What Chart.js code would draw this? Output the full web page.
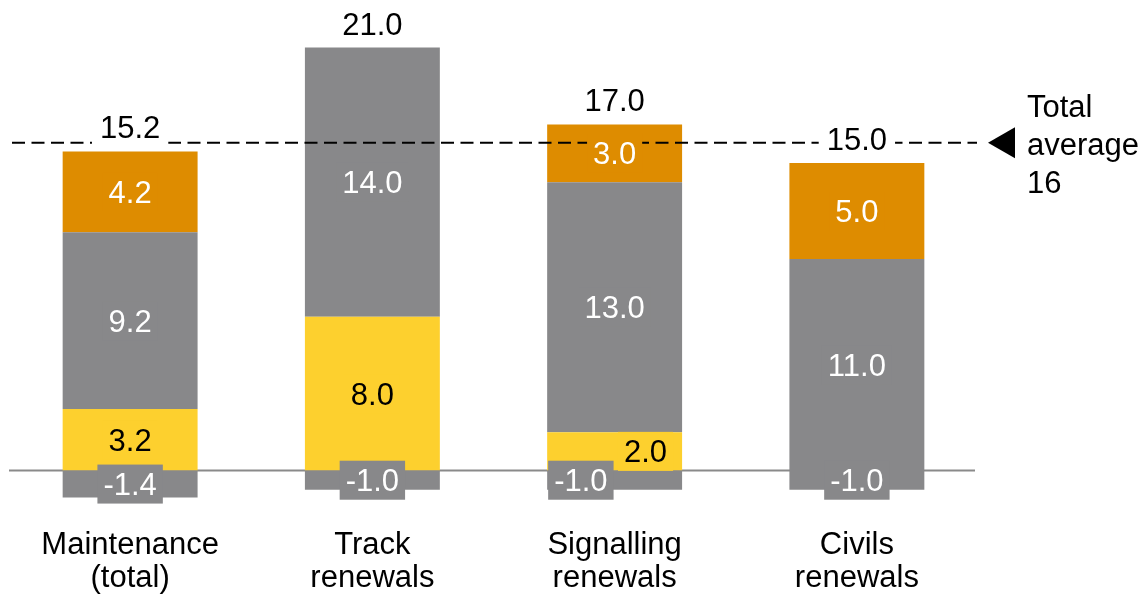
<!DOCTYPE html>
<html>
<head>
<meta charset="utf-8">
<script src="https://cdn.jsdelivr.net/npm/chart.js@4/dist/chart.umd.min.js"></script>
<style>
  html, body { margin: 0; padding: 0; background: #ffffff; }
  canvas { display: block; }
</style>
</head>
<body>
<canvas id="chart" width="1141" height="597"></canvas>
<script>
// Cost build-up per activity (stacked), with net totals above each bar
const categories = [
  ['Maintenance', '(total)'],
  ['Track', 'renewals'],
  ['Signalling', 'renewals'],
  ['Civils', 'renewals']
];
const reductions = [-1.4, -1.0, -1.0, -1.0];
const lowerBlock = [3.2, 8.0, 2.0, null];
const coreBlock  = [9.2, 14.0, 13.0, 11.0];
const upperBlock = [4.2, null, 3.0, 5.0];
const averageText = ['Total', 'average', '16'];

const GREY = '#88888a';
const YELLOW = '#fdd02e';
const ORANGE = '#de8c00';
const FONT = '31px "Liberation Sans", Arial, sans-serif';

// net total of every bar (sum of all its parts, negatives included)
const totals = categories.map((_, i) =>
  [reductions, lowerBlock, coreBlock, upperBlock].reduce((s, arr) => s + (arr[i] || 0), 0));
const averageLevel = totals.reduce((a, b) => a + b, 0) / totals.length;

// where a segment label has to move sideways to make room (category -> dataset)
const labelPlacement = {
  2: { 0: { align: 'start', inset: 1 }, 1: { align: 'end', inset: 9 } }
};

const annotate = {
  id: 'annotate',
  beforeDatasetsDraw(chart) {
    const { ctx, chartArea, scales } = chart;
    const y0 = scales.y.getPixelForValue(0);
    ctx.save();
    ctx.strokeStyle = '#8a8a8a';
    ctx.lineWidth = 2;
    ctx.beginPath();
    ctx.moveTo(chartArea.left, y0);
    ctx.lineTo(chartArea.right - 3, y0);
    ctx.stroke();
    ctx.restore();
  },
  afterDatasetsDraw(chart) {
    const { ctx, chartArea, scales } = chart;
    const yScale = scales.y, xScale = scales.x;
    ctx.save();

    // total average reference line
    const ya = yScale.getPixelForValue(averageLevel);
    ctx.strokeStyle = '#000000';
    ctx.lineWidth = 2;
    ctx.setLineDash([13, 6.5]);
    ctx.beginPath();
    ctx.moveTo(chartArea.left + 3, ya);
    ctx.lineTo(chartArea.right - 1, ya);
    ctx.stroke();
    ctx.setLineDash([]);

    // pointer and caption for the average
    ctx.fillStyle = '#000000';
    ctx.beginPath();
    ctx.moveTo(chartArea.right + 10, ya);
    ctx.lineTo(chartArea.right + 37, ya - 15.5);
    ctx.lineTo(chartArea.right + 37, ya + 15.5);
    ctx.closePath();
    ctx.fill();
    ctx.font = FONT;
    ctx.textAlign = 'left';
    ctx.textBaseline = 'alphabetic';
    averageText.forEach((t, k) => ctx.fillText(t, chartArea.right + 49, ya - 26 + k * 38));

    // segment value labels with a background tile in the segment colour
    ctx.textAlign = 'center';
    chart.data.datasets.forEach((ds, di) => {
      const meta = chart.getDatasetMeta(di);
      meta.data.forEach((el, i) => {
        const v = ds.data[i];
        if (v === null || v === undefined) return;
        const p = el.getProps(['x', 'y', 'base', 'width'], true);
        const mid = (p.y + p.base) / 2;
        const text = v.toFixed(1);
        const tw = ctx.measureText(text).width;
        const boxW = tw + 12;
        let cx = p.x;
        const place = labelPlacement[i] && labelPlacement[i][di];
        if (place && place.align === 'start') cx = p.x - p.width / 2 + place.inset + boxW / 2;
        if (place && place.align === 'end') cx = p.x + p.width / 2 - place.inset - boxW / 2;
        ctx.fillStyle = ds.backgroundColor;
        ctx.fillRect(cx - boxW / 2, mid - 19.5, boxW, 39);
        ctx.fillStyle = ds.labelColor;
        ctx.fillText(text, cx, mid + 11);
      });
    });

    // net totals above the bars
    categories.forEach((_, i) => {
      const positive = [lowerBlock, coreBlock, upperBlock].reduce((s, arr) => s + (arr[i] || 0), 0);
      const top = yScale.getPixelForValue(positive);
      const x = xScale.getPixelForValue(i);
      const text = totals[i].toFixed(1);
      const tw = ctx.measureText(text).width;
      const base = top - 13;
      ctx.fillStyle = '#ffffff';
      ctx.fillRect(x - tw / 2 - 8, base - 27, tw + 16, 35);
      ctx.fillStyle = '#000000';
      ctx.fillText(text, x, base);
    });

    // category names under the axis
    categories.forEach((lines, i) => {
      const x = xScale.getPixelForValue(i);
      lines.forEach((t, k) => ctx.fillText(t, x, 554 + k * 33));
    });

    ctx.restore();
  }
};

new Chart(document.getElementById('chart'), {
  type: 'bar',
  data: {
    labels: categories.map(c => c.join(' ')),
    datasets: [
      { data: reductions, backgroundColor: GREY, labelColor: '#ffffff' },
      { data: lowerBlock, backgroundColor: YELLOW, labelColor: '#000000' },
      { data: coreBlock, backgroundColor: GREY, labelColor: '#ffffff' },
      { data: upperBlock, backgroundColor: ORANGE, labelColor: '#ffffff' }
    ]
  },
  options: {
    responsive: false,
    animation: false,
    devicePixelRatio: 1,
    layout: { padding: { left: 9, right: 163, top: 0, bottom: 0 } },
    datasets: {
      bar: { categoryPercentage: 1, barPercentage: 0.557, borderWidth: 0 }
    },
    plugins: { legend: { display: false }, tooltip: { enabled: false }, title: { display: false } },
    scales: {
      x: { stacked: true, display: false, offset: true },
      y: { stacked: true, display: false, min: -6.573, max: 24.473 }
    }
  },
  plugins: [annotate]
});
</script>
</body>
</html>
